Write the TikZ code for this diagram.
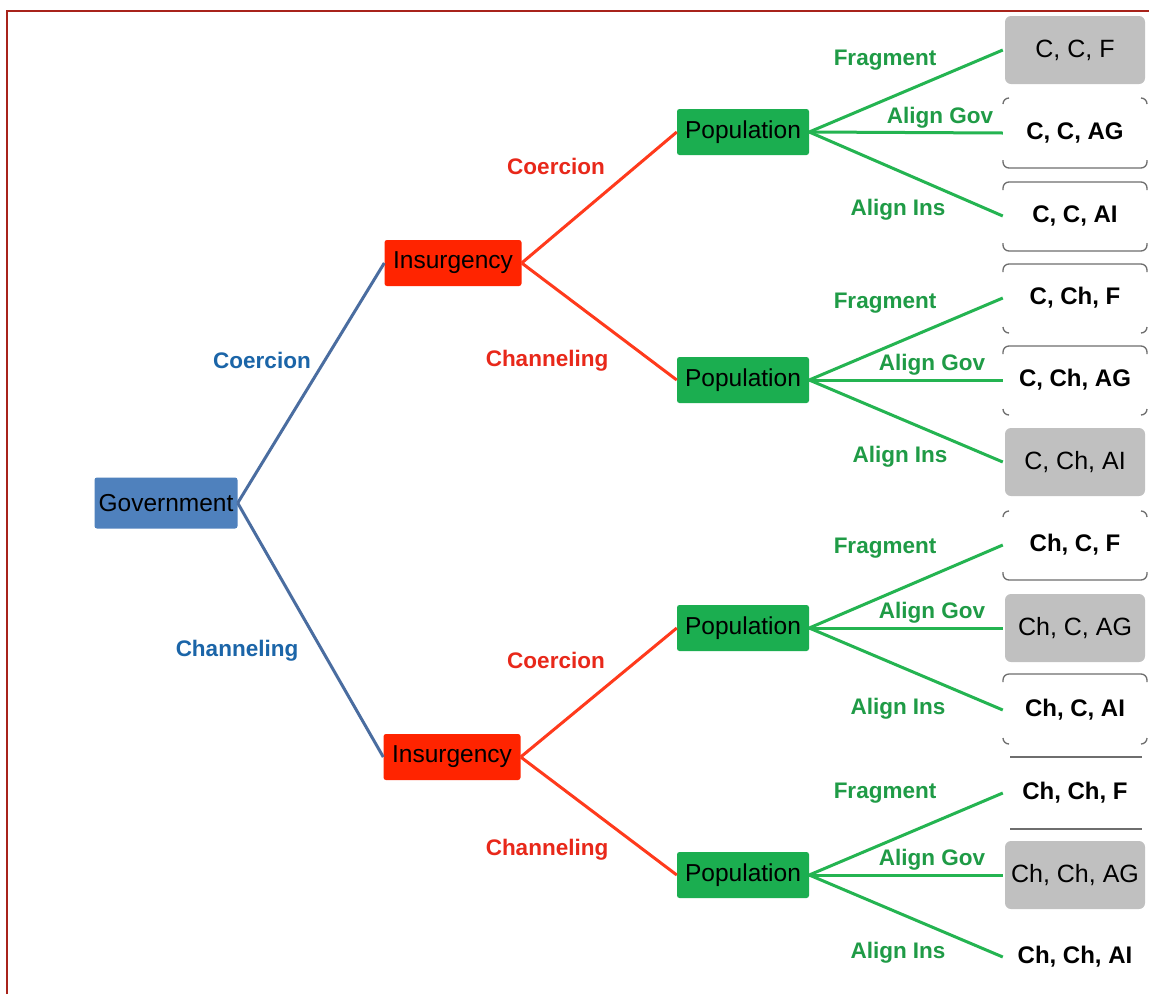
\documentclass[tikz,border=0pt]{standalone}
\usepackage{fontspec}
\setmainfont{Liberation Sans}
\definecolor{govfill}{HTML}{4F81BD}
\definecolor{govline}{HTML}{4A6DA0}
\definecolor{govtext}{HTML}{1B65A8}
\definecolor{insfill}{HTML}{FF2400}
\definecolor{insline}{HTML}{FF3A1C}
\definecolor{instext}{HTML}{E8281A}
\definecolor{popfill}{HTML}{1BAE50}
\definecolor{popline}{HTML}{24B451}
\definecolor{poptext}{HTML}{1F9B46}
\definecolor{leafgray}{HTML}{C0C0C0}
\definecolor{leafrule}{HTML}{6E6E6E}
\definecolor{framered}{HTML}{A8231B}
\tikzset{
  box/.style={rounded corners=2.5pt, inner sep=0pt, text=black,
    font=\fontsize{24.5}{27}\selectfont},
  govbox/.style={box, fill=govfill, minimum width=143pt, minimum height=51pt},
  insbox/.style={box, fill=insfill, minimum width=137pt, minimum height=46pt},
  popbox/.style={box, fill=popfill, minimum width=132pt, minimum height=46pt},
  leafbox/.style={inner sep=0pt, minimum width=140pt, minimum height=68pt,
    text=black, font=\bfseries\fontsize{24}{27}\selectfont},
  grayleaf/.style={leafbox, fill=leafgray, rounded corners=6pt,
    font=\fontsize{25}{27}\selectfont},
  govedge/.style={draw=govline, line width=3pt},
  insedge/.style={draw=insline, line width=3pt},
  popedge/.style={draw=popline, line width=3pt},
  lbl/.style={font=\bfseries\fontsize{22.5}{25}\selectfont},
  govlbl/.style={lbl, text=govtext},
  inslbl/.style={lbl, text=instext},
  poplbl/.style={lbl, text=poptext},
  leafrim/.style={draw=leafrule, line width=1.3pt, rounded corners=6pt},
}
% rims of the white outcome boxes
\newcommand{\rimtop}[1]{\draw[leafrim] (1003,#1+8) -- (1003,#1) -- (1147,#1) -- (1147,#1+8);}
\newcommand{\rimbot}[1]{\draw[leafrim] (1003,#1-8) -- (1003,#1) -- (1147,#1) -- (1147,#1-8);}
\newcommand{\tickstop}[1]{\draw[leafrim] (1003,#1+6) -- (1003,#1) -- (1009,#1);
  \draw[leafrim] (1141,#1) -- (1147,#1) -- (1147,#1+6);}
\newcommand{\ticksbot}[1]{\draw[leafrim] (1003,#1-6) -- (1003,#1) -- (1009,#1);
  \draw[leafrim] (1141,#1) -- (1147,#1) -- (1147,#1-6);}
\begin{document}
\begin{tikzpicture}[x=1pt,y=-1pt]
\useasboundingbox (0,0) rectangle (1149,994);
\fill[white] (0,0) rectangle (1149,994);
% frame
\draw[framered, line width=2.5pt] (7,994) -- (7,11) -- (1149,11);

% outcome box rims
\tickstop{98}   \rimbot{168}
\rimtop{182}    \rimbot{251}
\rimtop{264}    \ticksbot{333}
\rimtop{346}    \ticksbot{415}
\tickstop{511}  \rimbot{580}
\rimtop{674}    \ticksbot{744}
\draw[leafrim, rounded corners=0pt] (1010,757) -- (1142,757);
\draw[leafrim, rounded corners=0pt] (1010,829) -- (1142,829);

% nodes
\node[govbox] (gov) at (166,503) {Government};
\node[insbox] (ins1) at (453,263) {Insurgency};
\node[insbox] (ins2) at (452,757) {Insurgency};
\node[popbox] (pop1) at (743,132) {Population};
\node[popbox] (pop2) at (743,380) {Population};
\node[popbox] (pop3) at (743,628) {Population};
\node[popbox] (pop4) at (743,875) {Population};

\node[grayleaf] (l1) at (1075,50) {C, C, F};
\node[leafbox] (l2) at (1075,133) {C, C, AG};
\node[leafbox] (l3) at (1075,216) {C, C, AI};
\node[leafbox] (l4) at (1075,298) {C, Ch, F};
\node[leafbox] (l5) at (1075,380) {C, Ch, AG};
\node[grayleaf] (l6) at (1075,462) {C, Ch, AI};
\node[leafbox] (l7) at (1075,545) {Ch, C, F};
\node[grayleaf] (l8) at (1075,628) {Ch, C, AG};
\node[leafbox] (l9) at (1075,710) {Ch, C, AI};
\node[leafbox] (l10) at (1075,793) {Ch, Ch, F};
\node[grayleaf] (l11) at (1075,875) {Ch, Ch, AG};
\node[leafbox] (l12) at (1075,957) {Ch, Ch, AI};

% government moves
\draw[govedge] (gov.east) -- (ins1.west);
\draw[govedge] (gov.east) -- (ins2.west);
\node[govlbl] (g1) at (262,360) {Coercion};
\node[govlbl] (g2) at (237,651) {Channeling};

% insurgency moves
\draw[insedge] (ins1.east) -- (pop1.west);
\draw[insedge] (ins1.east) -- (pop2.west);
\draw[insedge] (ins2.east) -- (pop3.west);
\draw[insedge] (ins2.east) -- (pop4.west);
\node[inslbl] (i1) at (556,166) {Coercion};
\node[inslbl] (i2) at (547,361) {Channeling};
\node[inslbl] (i3) at (556,660) {Coercion};
\node[inslbl] (i4) at (547,850) {Channeling};

% population moves
\foreach \p/\a/\b/\c in {pop1/l1/l2/l3, pop2/l4/l5/l6, pop3/l7/l8/l9, pop4/l10/l11/l12}{
  \draw[popedge] (\p.east) -- ([xshift=-2pt]\a.west);
  \draw[popedge] (\p.east) -- ([xshift=-2pt]\b.west);
  \draw[popedge] (\p.east) -- ([xshift=-2pt]\c.west);
}
\node[poplbl] (f1) at (885,60) {Fragment};
\node[poplbl] (ag1) at (940,118) {Align Gov};
\node[poplbl] (ai1) at (898,210) {Align Ins};
\node[poplbl] (f2) at (885,303) {Fragment};
\node[poplbl] (ag2) at (932,365) {Align Gov};
\node[poplbl] (ai2) at (900,457) {Align Ins};
\node[poplbl] (f3) at (885,548) {Fragment};
\node[poplbl] (ag3) at (932,613) {Align Gov};
\node[poplbl] (ai3) at (898,709) {Align Ins};
\node[poplbl] (f4) at (885,793) {Fragment};
\node[poplbl] (ag4) at (932,860) {Align Gov};
\node[poplbl] (ai4) at (898,953) {Align Ins};
\end{tikzpicture}
\end{document}
